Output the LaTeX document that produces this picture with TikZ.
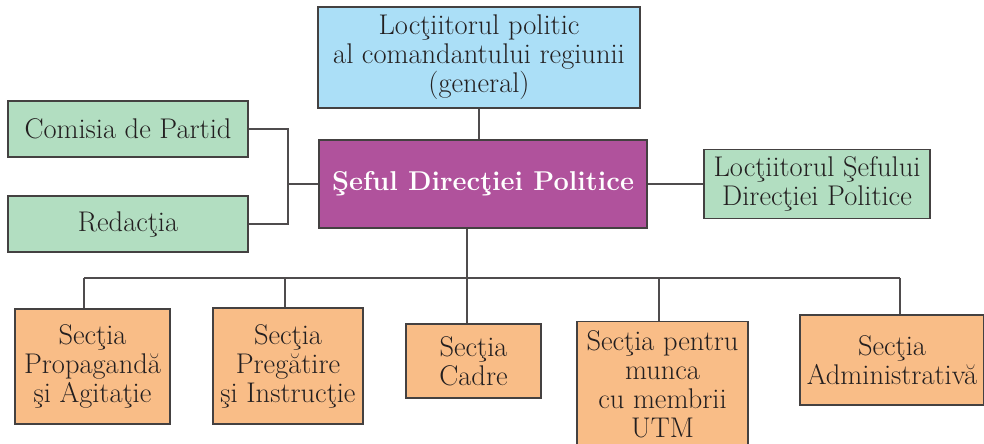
\documentclass[tikz,border=0pt]{standalone}
\usepackage{fontspec}
\usepackage{tikz}
\usetikzlibrary{positioning}

\definecolor{cerblue}{HTML}{ABDFF7}
\definecolor{cerpurple}{HTML}{B0529C}
\definecolor{cergreen}{HTML}{B2DEC1}
\definecolor{cerorange}{HTML}{F9BD87}
\definecolor{cerink}{HTML}{231F20}

\tikzset{
  box/.style={draw=cerink!85, line width=0.7pt, align=center, inner sep=0pt,
    text=cerink, font=\fontsize{16.2}{16.5}\selectfont},
  link/.style={draw=cerink!80, line width=0.6pt}
}

\begin{document}
\begin{tikzpicture}[x=0.2mm, y=-0.2mm]
    \useasboundingbox (0,0) rectangle (984,444);

    % Top of the chart
    \node[box, fill=cerblue, minimum width=6.44cm, minimum height=2.02cm] (gen) at (479,57.5)
      {Locţiitorul politic\\al comandantului regiunii\\(general)};
    \node[box, fill=cerpurple, text=white, minimum width=6.56cm, minimum height=1.76cm,
      font=\fontsize{15.5}{17}\selectfont\bfseries] (sef) at (483,184) {Şeful Direcţiei Politice};

    % Side boxes
    \node[box, fill=cergreen, minimum width=4.8cm, minimum height=1.12cm] (com) at (128,129) {Comisia de Partid};
    \node[box, fill=cergreen, minimum width=4.8cm, minimum height=1.12cm] (red) at (128,224) {Redacţia};
    \node[box, fill=cergreen, minimum width=4.52cm, minimum height=1.38cm] (loc) at (817,184)
      {Locţiitorul Şefului\\Direcţiei Politice};

    % Sections
    \node[box, fill=cerorange, minimum width=3.1cm, minimum height=2.3cm] (s1) at (92.5,366.5)
      {Secţia\\Propagandă\\şi Agitaţie};
    \node[box, fill=cerorange, minimum width=3.0cm, minimum height=2.32cm] (s2) at (288,366)
      {Secţia\\Pregătire\\şi Instrucţie};
    \node[box, fill=cerorange, minimum width=2.7cm, minimum height=1.48cm] (s3) at (473.5,361)
      {Secţia\\Cadre};
    \node[box, fill=cerorange, minimum width=3.42cm, minimum height=2.5cm] (s4) at (662.5,384)
      {Secţia pentru\\munca\\cu membrii\\UTM};
    \node[box, fill=cerorange, minimum width=3.68cm, minimum height=1.8cm] (s5) at (892,360)
      {Secţia\\Administrativă};

    % Connectors
    \draw[link] (gen.south) -- (gen.south |- sef.north);
    \coordinate (lj) at (288,184);
    \draw[link] (com.east) -| (lj) |- (red.east);
    \draw[link] (sef.west) -- (lj);
    \draw[link] (sef.east) -- (loc.west);

    \coordinate (bus) at (467,278);
    \draw[link] (bus |- sef.south) -- (bus);
    \draw[link] (84,278) -- (900,278);
    \foreach \n/\x in {s1/84, s2/285, s3/467, s4/659, s5/900} {
      \coordinate (t\n) at (\x,278);
      \draw[link] (t\n) -- (t\n |- \n.north);
    }
\end{tikzpicture}
\end{document}
